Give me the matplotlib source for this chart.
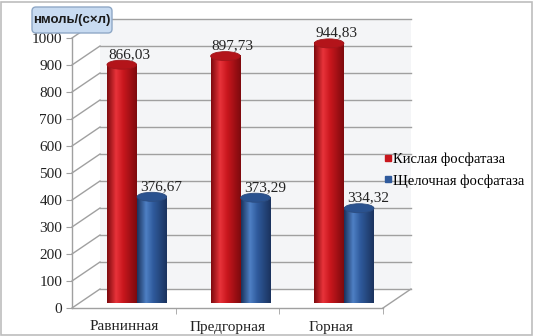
import numpy as np
import matplotlib
matplotlib.use('Agg')
import matplotlib.pyplot as plt
from matplotlib.patches import Ellipse, Rectangle, FancyBboxPatch
from matplotlib.lines import Line2D
from matplotlib.colors import LinearSegmentedColormap

categories = ['Равнинная', 'Предгорная', 'Горная']
acid = [866.03, 897.73, 944.83]
alkaline = [376.67, 373.29, 334.32]
acid_labels = ['866,03', '897,73', '944,83']
alk_labels = ['376,67', '373,29', '334,32']
series_names = ['Кислая фосфатаза', 'Щелочная фосфатаза']
yticks = list(range(0, 1001, 100))
unit = 'нмоль/(с×л)'

SERIF = 'Liberation Serif'
W, H = 535, 336
fig = plt.figure(figsize=(W / 100, H / 100), dpi=100)
fig.patch.set_facecolor('white')

ax_l, ax_b, ax_w, ax_h = 72, 28, 311, 270
ax = fig.add_axes([ax_l / W, ax_b / H, ax_w / W, ax_h / H])
ax.patch.set_alpha(0)
XMIN, XMAX, YMIN, YMAX = -0.5, 2.5, 0, 1000

# depth offsets (pixels -> data units)
px_x = (XMAX - XMIN) / ax_w
px_y = (YMAX - YMIN) / ax_h
DX, DY = 28 * px_x, 19 * px_y
MX, MY = DX / 2, DY / 2

grid_c = '#A0A0A0'
# back wall
ax.add_patch(Rectangle((XMIN + DX, YMIN + DY), XMAX - XMIN, YMAX - YMIN,
                       fc='#F4F5F7', ec='none', zorder=0, clip_on=False))
for v in yticks:
    ax.plot([XMIN + DX, XMAX + DX], [v + DY, v + DY], color=grid_c, lw=1.0,
            zorder=1, clip_on=False)
    ax.plot([XMIN, XMIN + DX], [v, v + DY], color=grid_c, lw=1.0,
            zorder=1, clip_on=False)
# floor right edge
ax.plot([XMAX, XMAX + DX], [0, DY], color=grid_c, lw=1.0, zorder=1, clip_on=False)

def gradient_cmap(dark, mid, light):
    return LinearSegmentedColormap.from_list('g', [(0, dark), (0.3, light), (0.55, mid), (1, dark)])

red_cmap = gradient_cmap('#7E0A0E', '#C8161D', '#E8333A')
blue_cmap = gradient_cmap('#1B335E', '#2F5A9C', '#4E80C4')
grad = np.linspace(0, 1, 64).reshape(1, -1)

EH = 9 * px_y  # ellipse height in data units
BW = 0.285

def cylinder(xc, h, cmap, topc, z):
    x0, x1 = xc - BW / 2, xc + BW / 2
    base = MY
    e = Ellipse((xc, base), BW, EH, fc='none', ec='none', clip_on=False)
    ax.add_patch(e)
    im = ax.imshow(grad, cmap=cmap, extent=[x0, x1, base - EH / 2, base + EH / 2],
                   aspect='auto', zorder=z, clip_on=False)
    im.set_clip_path(e)
    r = Rectangle((x0, base), BW, h, fc='none', ec='none', clip_on=False)
    ax.add_patch(r)
    im2 = ax.imshow(grad, cmap=cmap, extent=[x0, x1, base, base + h],
                    aspect='auto', zorder=z, clip_on=False)
    im2.set_clip_path(r)
    ax.add_patch(Ellipse((xc, base + h), BW, EH, fc=topc, ec=cmap(0.1), lw=0.6,
                         zorder=z + 0.1, clip_on=False))

x = np.arange(len(categories))
for i in range(len(categories)):
    xr = x[i] - 0.155 + MX
    xb = x[i] + 0.135 + MX
    cylinder(xr, acid[i], red_cmap, '#B3141A', 3)
    cylinder(xb, alkaline[i], blue_cmap, '#2A528F', 4)
    ax.text(xr + 0.07, acid[i] + MY + EH / 2 - 2, acid_labels[i], ha='center', va='bottom',
            family=SERIF, fontsize=11, color='#222222', zorder=6)
    ax.text(xb + 0.09, alkaline[i] + MY + EH / 2 - 2, alk_labels[i], ha='center', va='bottom',
            family=SERIF, fontsize=11, color='#222222', zorder=6)

ax.set_xlim(XMIN, XMAX)
ax.set_ylim(YMIN, YMAX)
for s in ['top', 'right']:
    ax.spines[s].set_visible(False)
for s in ['left', 'bottom']:
    ax.spines[s].set_color(grid_c)
    ax.spines[s].set_linewidth(1.0)
ax.set_yticks(yticks)
ax.set_yticklabels([str(v) for v in yticks], family=SERIF, fontsize=11, color='#222222')
ax.tick_params(axis='y', length=4, color=grid_c, pad=3)
ax.set_xticks(x)
ax.set_xticklabels(categories, family=SERIF, fontsize=11, color='#222222')
ax.tick_params(axis='x', which='major', length=0, pad=9)
ax.set_xticks([0.5, 1.5, 2.5], minor=True)
ax.tick_params(axis='x', which='minor', length=4, color=grid_c)

handles = [Line2D([], [], marker='s', ls='', color='#C8161D', markersize=5),
           Line2D([], [], marker='s', ls='', color='#2F5A9C', markersize=5)]
fig.legend(handles, series_names, loc='center left', bbox_to_anchor=(370 / W, 1 - 170 / H),
           frameon=False, handlelength=0.6, handletextpad=0.1, labelspacing=0.55,
           prop={'family': SERIF, 'size': 10.5})

# unit title box
fig.add_artist(FancyBboxPatch((0.32, (H - 33) / 100), 0.80, 0.26,
                              boxstyle='round,pad=0,rounding_size=0.04',
                              transform=fig.dpi_scale_trans, fc='#C8DBF1', ec='#8FA8C6',
                              lw=1, zorder=5))
fig.text(72 / W, 1 - 20.5 / H, unit, ha='center', va='center', fontsize=9.5, fontweight='bold',
         family='Liberation Sans', color='#1A1A1A', zorder=6)

fig.add_artist(Rectangle((1 / W, 1 / H), (W - 4) / W, (H - 3) / H, transform=fig.transFigure,
                         fill=False, ec='#BDBDBD', lw=1.2))

fig.savefig('out.png', dpi=100)
